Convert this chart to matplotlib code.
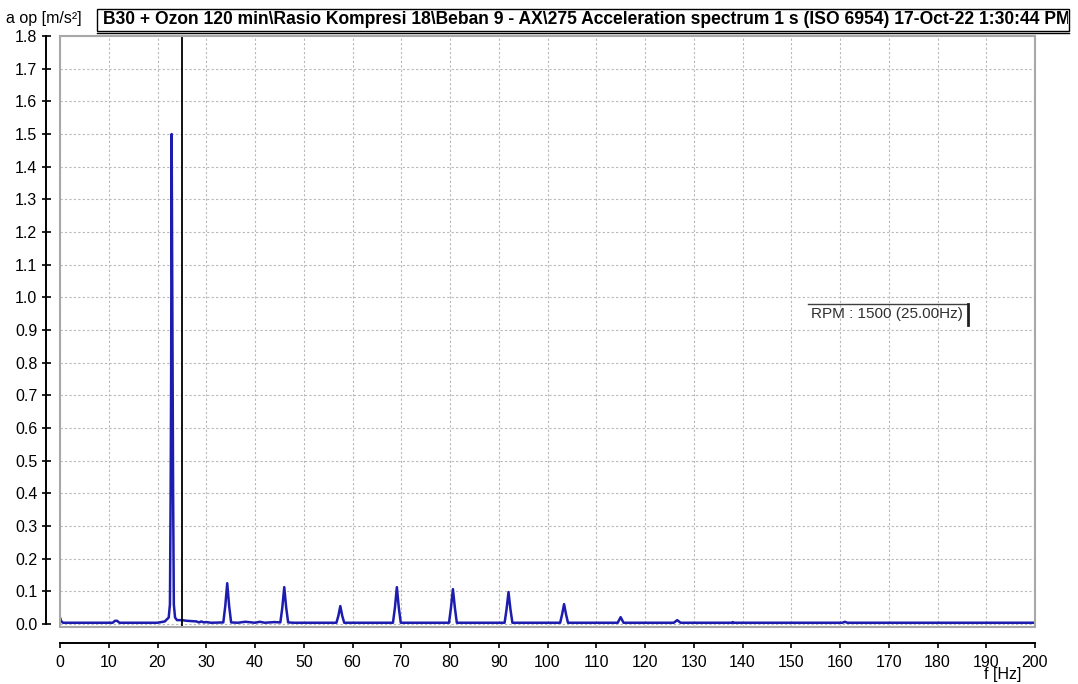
import numpy as np
import matplotlib.pyplot as plt
from matplotlib.patches import Rectangle
from matplotlib.ticker import FixedLocator

plt.rcParams['font.family'] = ['Liberation Sans', 'DejaVu Sans']

# spectrum points (Hz, m/s^2)
freq_hz = [0.0, 0.2, 0.6, 10.8, 11.3, 11.7, 12.2, 20.0, 21.5, 22.3, 22.55, 22.7, 22.8,
           22.9, 23.0, 23.1, 23.2, 23.35, 23.6, 24.0, 25.0, 26.0, 27.0, 28.0, 28.5,
           29.0, 29.5, 30.0, 31.0, 33.5, 33.9, 34.3, 34.7, 35.1, 36.5, 38.0, 40.0,
           41.0, 42.0, 44.0, 45.2, 45.6, 46.0, 46.4, 46.8, 48.0, 56.7, 57.1, 57.5,
           57.9, 58.3, 68.3, 68.7, 69.1, 69.5, 69.9, 79.8, 80.2, 80.6, 81.0, 81.4,
           91.2, 91.6, 92.0, 92.4, 92.8, 102.6, 103.0, 103.4, 103.8, 104.2, 114.4,
           115.0, 115.6, 125.9, 126.6, 127.3, 137.8, 138.0, 138.2, 160.5, 161.0,
           161.5, 200.0]
amp = [0.02, 0.01, 0.004, 0.004, 0.01, 0.01, 0.004, 0.004, 0.008, 0.02, 0.06, 0.41, 0.77,
       1.5, 1.13, 0.77, 0.41, 0.06, 0.02, 0.012, 0.012, 0.01, 0.009, 0.008, 0.005,
       0.008, 0.005, 0.006, 0.004, 0.005, 0.055, 0.125, 0.055, 0.005, 0.004, 0.007, 0.004,
       0.007, 0.004, 0.006, 0.005, 0.05, 0.113, 0.05, 0.005, 0.004, 0.004, 0.025, 0.055,
       0.025, 0.004, 0.004, 0.05, 0.113, 0.05, 0.004, 0.004, 0.05, 0.107, 0.05, 0.004,
       0.004, 0.045, 0.098, 0.045, 0.004, 0.004, 0.03, 0.061, 0.03, 0.004, 0.004,
       0.021, 0.004, 0.004, 0.012, 0.004, 0.004, 0.006, 0.004, 0.004, 0.007,
       0.004, 0.004]

rpm_hz = 25.0
title = "B30 + Ozon 120 min\\Rasio Kompresi 18\\Beban 9 - AX\\275 Acceleration spectrum 1 s (ISO 6954) 17-Oct-22 1:30:44 PM"

W, H = 1078, 684
PX = 0.72  # points per pixel at dpi 100
fig = plt.figure(figsize=(W / 100, H / 100), dpi=100)
ax = fig.add_axes([60 / W, (H - 627) / H, 975 / W, (627 - 36) / H])

ax.plot(freq_hz, amp, color='#1c1cae', lw=1.8, zorder=3)
ax.axvline(rpm_hz, color='black', lw=1.3, zorder=4)

ax.set_xlim(0, 200)
ax.set_ylim(-0.009, 1.8)
ax.set_xticks(np.arange(0, 201, 10))
ax.set_yticks(np.round(np.arange(0, 1.81, 0.1), 1))
ax.set_yticklabels([f"{v:.1f}" for v in np.arange(0, 1.81, 0.1)])
ax.grid(True, color='#b8b8b8', linestyle=(0, (2, 2)), lw=0.8)

# plot frame
ax.add_patch(Rectangle((0, 0), 1, 1, transform=ax.transAxes, fill=False,
                       ec='#a8a8a8', lw=1.5, clip_on=False, zorder=5))
for s in ['top', 'right']:
    ax.spines[s].set_visible(False)
ax.spines['left'].set_position(('outward', 14 * PX))
ax.spines['left'].set_bounds(0, 1.8)
ax.spines['left'].set_linewidth(1.4)
ax.spines['bottom'].set_position(('outward', 16 * PX))
ax.spines['bottom'].set_bounds(0, 200)
ax.spines['bottom'].set_linewidth(1.4)

ax.tick_params(axis='y', direction='inout', length=9 * PX, width=1.2, pad=3, labelsize=11.5)
ax.tick_params(axis='x', which='major', direction='out', length=5 * PX, width=1.2,
               pad=5, labelsize=11.5)
ax.xaxis.set_minor_locator(FixedLocator([0, 200]))
ax.tick_params(axis='x', which='minor', direction='inout', length=14 * PX, width=1.2)

fig.text(1003 / W, 1 - 675 / H, "f [Hz]", ha='center', va='center', fontsize=11.5)

ax.text(154, 0.95, "RPM : 1500 (25.00Hz)", ha='left', va='center', fontsize=11,
        color='#303030', zorder=6)
fig.add_artist(plt.Line2D([808 / W, 968 / W], [1 - 304 / H, 1 - 304 / H],
                          color='#404040', lw=1))
fig.add_artist(plt.Line2D([968 / W, 968 / W], [1 - 304 / H, 1 - 325 / H],
                          color='#202020', lw=2))

# header
fig.text(6 / W, 1 - 19 / H, "a op [m/s²]", ha='left', va='center', fontsize=11.5)
fig.text(103 / W, 1 - 19 / H, title, ha='left', va='center', fontsize=12.65,
         fontweight='bold')
fig.add_artist(Rectangle((1068 / W, 0.9), 10 / W, 0.1, transform=fig.transFigure,
                         fc='white', ec='none', zorder=10))
fig.add_artist(Rectangle((97 / W, 1 - 31 / H), (1069 - 97) / W, 22 / H,
                         transform=fig.transFigure, fill=False, ec='black', lw=1, zorder=11))
fig.add_artist(plt.Line2D([97 / W, 1069 / W], [1 - 33 / H, 1 - 33 / H],
                          color='black', lw=1, zorder=11))

fig.savefig("out.png", dpi=100)
